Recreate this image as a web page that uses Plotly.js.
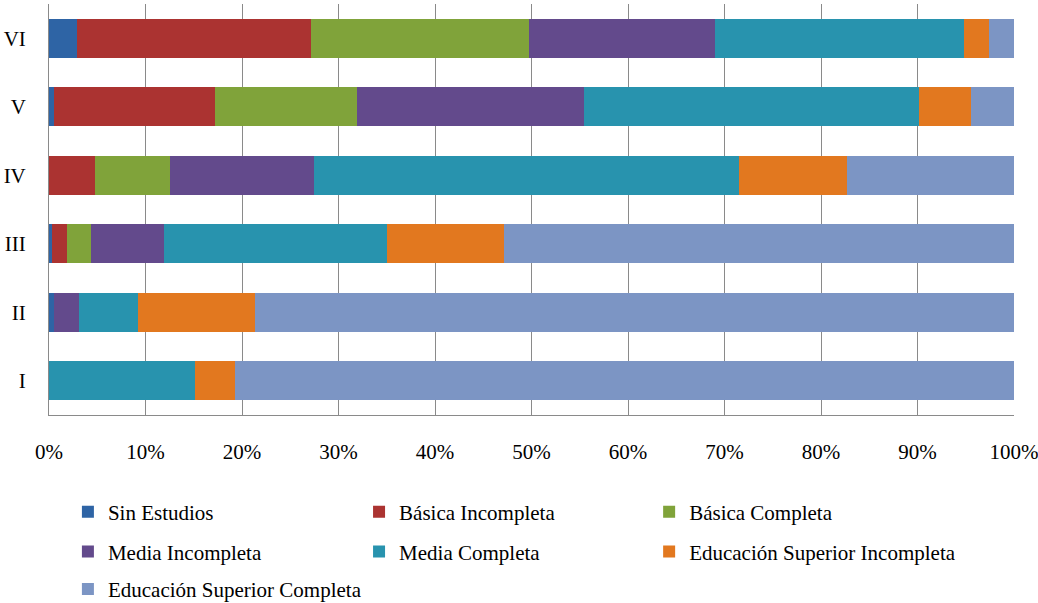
<!DOCTYPE html>
<html><head><meta charset="utf-8">
<script src="https://cdn.plot.ly/plotly-3.0.1.min.js"></script>
<style>html,body{margin:0;padding:0;background:#fff}#c{width:1038px;height:603px}</style>
</head><body><div id="c"></div>
<script>
const categories = ["I","II","III","IV","V","VI"];
const seriesNames = ["Sin Estudios","Básica Incompleta","Básica Completa","Media Incompleta","Media Completa","Educación Superior Incompleta","Educación Superior Completa"];
const sinEstudios        = [0,   0.5, 0.3, 0,    0.5,  2.9];
const basicaIncompleta   = [0,   0,   1.6, 4.8,  16.7, 24.2];
const basicaCompleta     = [0,   0,   2.5, 7.7,  14.7, 22.6];
const mediaIncompleta    = [0,   2.6, 7.5, 15.0, 23.5, 19.3];
const mediaCompleta      = [15.1,6.1, 23.1,44.0, 34.8, 25.8];
const superiorIncompleta = [4.2, 12.1,12.1,11.2, 5.3,  2.6];
const superiorCompleta   = [80.7,78.7,52.9,17.3, 4.5,  2.6];
const seriesValues = [sinEstudios,basicaIncompleta,basicaCompleta,mediaIncompleta,mediaCompleta,superiorIncompleta,superiorCompleta];
const colors = ["#2E64A5","#AB3331","#80A33A","#634A8C","#2893AE","#E2781F","#7C95C4"];
const xTickVals = [0,10,20,30,40,50,60,70,80,90,100];
const xTickText = xTickVals.map(v => v + "%");

// legend grid: 3 columns, rows in order
const legendColX = [0.0196, 0.3213, 0.6219];
const legendRowY = [-0.236, -0.333, -0.424];

const legendIds = seriesNames.map((n,i) => i === 0 ? "legend" : "legend" + (i+1));
const traces = seriesNames.map((n,i) => ({
  type:"bar", orientation:"h", name:n, y:categories, x:seriesValues[i],
  marker:{color:colors[i], line:{width:0}}, legend:legendIds[i], hoverinfo:"x+name"
}));

const font = {family:"Liberation Serif", size:21, color:"#000"};
const layout = {
  width:1038, height:603,
  margin:{l:49, r:24, t:4, b:188, autoexpand:false},
  barmode:"stack", bargap:0.43,
  paper_bgcolor:"#fff", plot_bgcolor:"#fff",
  font:font, showlegend:true,
  xaxis:{range:[0,100], tickvals:xTickVals, ticktext:xTickText, showgrid:true, gridcolor:"#8a8a8a", gridwidth:1,
         zeroline:false, showline:true, linecolor:"#8a8a8a", linewidth:1, ticks:"", ticklabelstandoff:18,
         ticklabeloverflow:"allow", automargin:false, fixedrange:true},
  yaxis:{type:"category", showgrid:false, zeroline:false, showline:true, linecolor:"#8a8a8a", linewidth:1,
         ticks:"", ticklabelstandoff:18, automargin:false, fixedrange:true}
};
legendIds.forEach((id,i) => {
  layout[id] = {orientation:"h", x:legendColX[i % 3], xanchor:"left", y:legendRowY[Math.floor(i/3)], yanchor:"middle",
                font:font, itemwidth:30, bgcolor:"rgba(0,0,0,0)", borderwidth:0};
});
Plotly.newPlot("c", traces, layout, {displayModeBar:false, staticPlot:true});
</script></body></html>
